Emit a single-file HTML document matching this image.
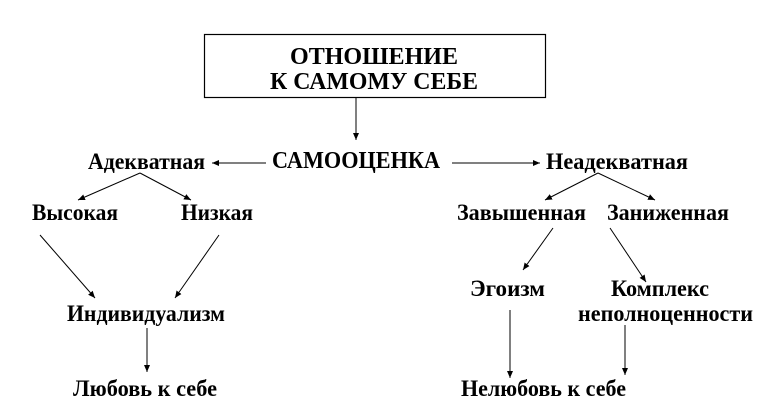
<!DOCTYPE html>
<html><head><meta charset="utf-8"><style>
html,body{margin:0;padding:0;background:#fff;}
svg text{font-family:"Liberation Serif","DejaVu Serif",serif;font-weight:bold;fill:#000;}
</style></head><body>
<svg width="758" height="400" viewBox="0 0 758 400" xmlns="http://www.w3.org/2000/svg">
<defs><marker id="a" markerWidth="8" markerHeight="8" refX="7" refY="4" orient="auto" markerUnits="userSpaceOnUse"><path d="M0,1 L7,4 L0,7 z" fill="#000"/></marker></defs>
<rect x="204.5" y="34.5" width="341" height="63" fill="none" stroke="#000" stroke-width="1.2"/>
<text x="290" y="64" font-size="24" textLength="168" lengthAdjust="spacingAndGlyphs">ОТНОШЕНИЕ</text>
<text x="270" y="89" font-size="24" textLength="208" lengthAdjust="spacingAndGlyphs">К САМОМУ СЕБЕ</text>
<g stroke="#000" stroke-width="1" marker-end="url(#a)" fill="none">
<line x1="356" y1="98" x2="356" y2="140"/>
<line x1="266" y1="163" x2="212" y2="163"/>
<line x1="452" y1="163" x2="540" y2="163"/>
<line x1="140" y1="173" x2="78" y2="200"/>
<line x1="140" y1="173" x2="191" y2="200"/>
<line x1="598" y1="173" x2="545" y2="200"/>
<line x1="598" y1="173" x2="655" y2="200"/>
<line x1="40" y1="235" x2="95" y2="298"/>
<line x1="219" y1="235" x2="175" y2="298"/>
<line x1="147" y1="328" x2="147" y2="372"/>
<line x1="553" y1="228" x2="523" y2="270"/>
<line x1="610" y1="228" x2="646" y2="282"/>
<line x1="510" y1="310" x2="510" y2="378"/>
<line x1="625" y1="325" x2="625" y2="375"/>
</g>
<text x="272" y="168" font-size="24" textLength="168" lengthAdjust="spacingAndGlyphs">САМООЦЕНКА</text>
<text x="88" y="169" font-size="23" textLength="117" lengthAdjust="spacingAndGlyphs">Адекватная</text>
<text x="546" y="169" font-size="23" textLength="142" lengthAdjust="spacingAndGlyphs">Неадекватная</text>
<text x="32" y="220" font-size="23" textLength="86" lengthAdjust="spacingAndGlyphs">Высокая</text>
<text x="181" y="220" font-size="23" textLength="72" lengthAdjust="spacingAndGlyphs">Низкая</text>
<text x="457" y="220" font-size="23" textLength="129" lengthAdjust="spacingAndGlyphs">Завышенная</text>
<text x="607" y="220" font-size="23" textLength="122" lengthAdjust="spacingAndGlyphs">Заниженная</text>
<text x="67" y="321" font-size="23" textLength="158" lengthAdjust="spacingAndGlyphs">Индивидуализм</text>
<text x="73" y="396" font-size="23" textLength="144" lengthAdjust="spacingAndGlyphs">Любовь к себе</text>
<text x="470" y="296" font-size="23" textLength="75" lengthAdjust="spacingAndGlyphs">Эгоизм</text>
<text x="611" y="296" font-size="23" textLength="98" lengthAdjust="spacingAndGlyphs">Комплекс</text>
<text x="578" y="321" font-size="23" textLength="175" lengthAdjust="spacingAndGlyphs">неполноценности</text>
<text x="461" y="396" font-size="23" textLength="165" lengthAdjust="spacingAndGlyphs">Нелюбовь к себе</text>
</svg>
</body></html>
